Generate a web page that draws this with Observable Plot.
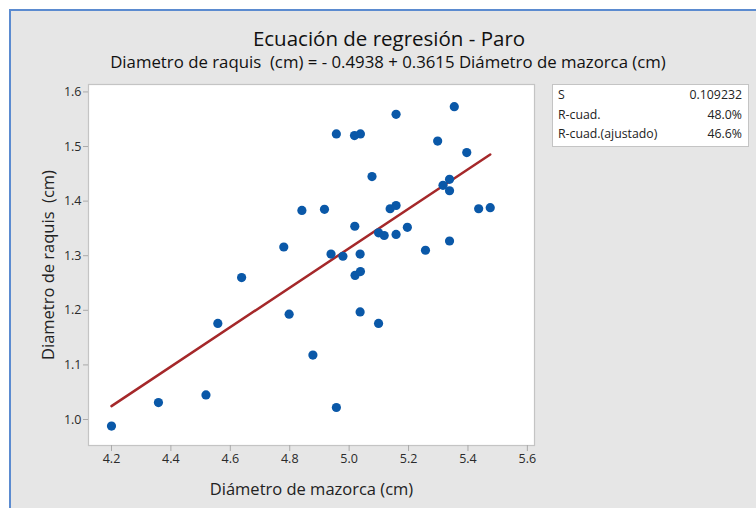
<!DOCTYPE html>
<html>
<head>
<meta charset="utf-8">
<script src="https://cdn.jsdelivr.net/npm/d3@7"></script>
<script src="https://cdn.jsdelivr.net/npm/@observablehq/plot@0.6"></script>
<style>
  html, body { margin: 0; padding: 0; background: #ffffff; }
  #page { position: relative; width: 756px; height: 508px; overflow: hidden; background: #ffffff; font-family: "Open Sans", "Noto Sans", sans-serif; }
  #panel { position: absolute; left: 9px; top: 9px; width: 760px; height: 520px; background: #e6e6e6; border-left: 2px solid #5b8bd0; border-top: 2px solid #5b8bd0; box-sizing: border-box; }
  #title { position: absolute; left: 0; width: 778px; top: 26px; text-align: center; font-size: 20.5px; line-height: 24px; color: #111; }
  #subtitle { position: absolute; left: 0; width: 776px; top: 52px; text-align: center; font-size: 16.8px; line-height: 20px; color: #111; white-space: pre; }
  #chart { position: absolute; left: 10px; top: 76px; }
  #stats { position: absolute; left: 552px; top: 84px; width: 197px; height: 63px; background: #fff; border: 1px solid #c4c4c4; box-sizing: border-box; font-size: 12.3px; color: #222; padding: 0 6px 0 5px; }
  #stats .row { display: flex; justify-content: space-between; height: 19.5px; line-height: 19.5px; }
</style>
</head>
<body>
<div id="page">
  <div id="panel"></div>
  <div id="title"></div>
  <div id="subtitle"></div>
  <div id="chart"></div>
  <div id="stats"></div>
</div>
<script>
// ---- Data ----
const titleText = "Ecuación de regresión - Paro";
const subtitleText = "Diametro de raquis  (cm) = - 0.4938 + 0.3615 Diámetro de mazorca (cm)";
const xLabel = "Diámetro de mazorca (cm)";
const yLabel = "Diametro de raquis  (cm)";
const intercept = -0.4938;
const slope = 0.3615;

const mazorca = [5.354, 5.158, 4.957, 5.018, 5.038, 5.298, 5.396, 5.077, 5.338, 5.316,
                 5.338, 4.841, 4.917, 5.138, 5.158, 5.436, 5.475, 5.019, 5.099, 5.118,
                 5.158, 5.196, 5.338, 5.257, 4.939, 4.979, 5.037, 5.020, 5.038, 4.780,
                 4.638, 4.558, 4.798, 4.878, 4.518, 4.358, 4.200, 5.037, 5.099, 4.957];
const raquis  = [1.573, 1.559, 1.523, 1.520, 1.523, 1.510, 1.489, 1.445, 1.440, 1.429,
                 1.419, 1.383, 1.385, 1.386, 1.392, 1.386, 1.388, 1.354, 1.342, 1.337,
                 1.339, 1.352, 1.327, 1.310, 1.303, 1.299, 1.303, 1.264, 1.271, 1.316,
                 1.260, 1.176, 1.193, 1.118, 1.045, 1.031, 0.988, 1.197, 1.176, 1.022];

const xTicks = [4.2, 4.4, 4.6, 4.8, 5.0, 5.2, 5.4, 5.6];
const yTicks = [1.0, 1.1, 1.2, 1.3, 1.4, 1.5, 1.6];

const statLabels = ["S", "R-cuad.", "R-cuad.(ajustado)"];
const statValues = ["0.109232", "48.0%", "46.6%"];

// ---- Build ----
document.getElementById("title").textContent = titleText;
document.getElementById("subtitle").textContent = subtitleText;
const stats = document.getElementById("stats");
statLabels.forEach((l, i) => {
  const r = document.createElement("div");
  r.className = "row";
  const a = document.createElement("span"); a.textContent = l;
  const b = document.createElement("span"); b.textContent = statValues[i];
  r.appendChild(a); r.appendChild(b); stats.appendChild(r);
});

const points = mazorca.map((x, i) => ({x, y: raquis[i]}));
const xmin = d3.min(mazorca), xmax = d3.max(mazorca);
const fit = [xmin, xmax].map(x => ({x, y: intercept + slope * x}));

const chart = Plot.plot({
  width: 540,
  height: 432,
  marginLeft: 78,
  marginTop: 8,
  marginRight: 16,
  marginBottom: 63,
  style: { background: "transparent", fontFamily: "'Open Sans', 'Noto Sans', sans-serif", fontSize: "12px", color: "#333" },
  x: { domain: [4.1226, 5.624] },
  y: { domain: [0.9524, 1.6136] },
  marks: [
    Plot.frame({ fill: "white", stroke: "#c4c4c4", strokeWidth: 1.2 }),
    Plot.axisX({ ticks: xTicks, tickFormat: d3.format(".1f"), tickSize: 6, tickPadding: 3, stroke: "#aaa", color: "#2a2a2a", fontSize: 12.5,
                 label: null }),
    Plot.axisY({ ticks: yTicks, tickFormat: d3.format(".1f"), tickSize: 5, tickPadding: 2, stroke: "#aaa", color: "#2a2a2a", fontSize: 12.5,
                 label: null }),
    Plot.axisX({ ticks: [], tickSize: 0, label: xLabel, labelAnchor: "center", labelArrow: "none", labelOffset: 49, fontSize: 16.5, color: "#222" }),
    Plot.axisY({ ticks: [], tickSize: 0, label: yLabel, labelAnchor: "center", labelArrow: "none", labelOffset: 46, fontSize: 16.5, color: "#222" }),
    Plot.line(fit, { x: "x", y: "y", stroke: "#a5282a", strokeWidth: 2.5 }),
    Plot.dot(points, { x: "x", y: "y", r: 4.6, fill: "#0a58a8", stroke: "none" })
  ]
});
document.getElementById("chart").appendChild(chart);

chart.querySelectorAll("g[aria-label='x-axis tick label'], g[aria-label='y-axis tick label']").forEach(g => {
  g.setAttribute("font-size", "12.5");
  g.style.fontSize = "12.5px";
  g.querySelectorAll("text").forEach(t => { t.style.fontSize = "12.5px"; });
});
chart.querySelectorAll("g[aria-label='x-axis label'] text, g[aria-label='y-axis label'] text").forEach(t => {
  t.style.whiteSpace = "pre";
  t.style.fontSize = "16.5px";
});
</script>
</body>
</html>
